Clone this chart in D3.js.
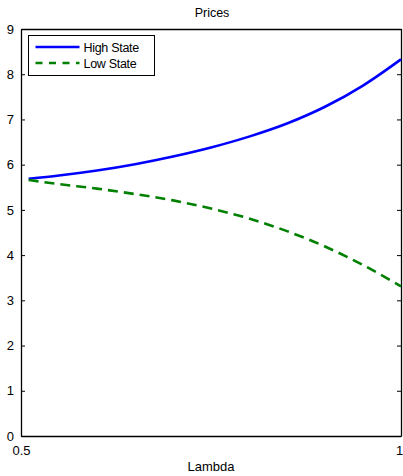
<!DOCTYPE html>
<meta charset="UTF-8">
<script src="https://d3js.org/d3.v7.min.js"></script>
<style>
  body { margin: 0; background: #fff; }
  text { font-family: "Liberation Sans", Arial, sans-serif; }
</style>
<div id="my_dataviz"></div>
<script>

// values
var lambda    = [0.51, 0.55, 0.6, 0.65, 0.7, 0.75, 0.8, 0.85, 0.9, 0.95, 1.0];
var highState = [5.69, 5.76, 5.87, 6.01, 6.18, 6.38, 6.62, 6.91, 7.28, 7.75, 8.33];
var lowState  = [5.66, 5.57, 5.47, 5.35, 5.21, 5.03, 4.81, 4.53, 4.19, 3.78, 3.31];
var yTicks = [0, 1, 2, 3, 4, 5, 6, 7, 8, 9];
var xTicks = [0.5, 1];
var seriesNames = ["High State", "Low State"];

var width = 403, height = 476;
var margin = {top: 29, right: 2, bottom: 40, left: 21};

var svg = d3.select("#my_dataviz")
  .append("svg")
    .attr("width", width)
    .attr("height", height);

var x = d3.scaleLinear().domain([0.5, 1]).range([margin.left, width - margin.right]);
var y = d3.scaleLinear().domain([0, 9]).range([height - margin.bottom, margin.top]);

// title
svg.append("text")
  .attr("x", (x(0.5) + x(1)) / 2 + 1)
  .attr("y", 17)
  .attr("text-anchor", "middle")
  .style("font-size", "12.5px")
  .text("Prices");

// axes (matlab style: ticks inside, box around)
svg.append("g")
  .attr("transform", "translate(" + x(0.5) + ",0)")
  .call(d3.axisLeft(y).tickValues(yTicks).tickSizeInner(-4).tickSizeOuter(0).tickPadding(7))
  .call(function(g) {
    g.select(".domain").attr("stroke-width", 1.3);
    g.selectAll("text").style("font-size", "13px").attr("fill", "#000");
  });

svg.append("g")
  .attr("transform", "translate(" + x(1) + ",0)")
  .call(d3.axisRight(y).tickValues(yTicks).tickSizeInner(-4).tickSizeOuter(0).tickFormat(""))
  .call(function(g) { g.select(".domain").attr("stroke-width", 1.3); });

svg.append("g")
  .attr("transform", "translate(0," + y(0) + ")")
  .call(d3.axisBottom(x).tickValues(xTicks).tickFormat(d3.format("")).tickSizeInner(-4).tickSizeOuter(0).tickPadding(10))
  .call(function(g) {
    g.select(".domain").attr("stroke-width", 1.3);
    g.selectAll("text").style("font-size", "13px").attr("fill", "#000");
    // keep the "1" inside the window
    g.selectAll("text").filter(function(d) { return d === 1; }).attr("dx", "-2px");
  });

svg.append("g")
  .attr("transform", "translate(0," + y(9) + ")")
  .call(d3.axisTop(x).tickValues(xTicks).tickSizeInner(-4).tickSizeOuter(0).tickFormat(""))
  .call(function(g) { g.select(".domain").attr("stroke-width", 1.3); });

// x label
svg.append("text")
  .attr("x", (x(0.5) + x(1)) / 2)
  .attr("y", 471)
  .attr("text-anchor", "middle")
  .style("font-size", "13px")
  .text("Lambda");

// lines
var line = d3.line()
  .x(function(d) { return x(d[0]); })
  .y(function(d) { return y(d[1]); })
  .curve(d3.curveMonotoneX);

svg.append("path")
  .datum(d3.zip(lambda, highState))
  .attr("fill", "none")
  .attr("stroke", "#0000ff")
  .attr("stroke-width", 2.6)
  .attr("d", line);

svg.append("path")
  .datum(d3.zip(lambda, lowState))
  .attr("fill", "none")
  .attr("stroke", "#008000")
  .attr("stroke-width", 2.6)
  .attr("stroke-dasharray", "10,6")
  .attr("d", line);

// legend
var legend = svg.append("g").attr("transform", "translate(28.5,35.5)");
legend.append("rect")
  .attr("width", 126)
  .attr("height", 40)
  .attr("fill", "#fff")
  .attr("stroke", "#000")
  .attr("stroke-width", 1);

var styles = [{color: "#0000ff", dash: null}, {color: "#008000", dash: "7,6.5"}];
seriesNames.forEach(function(name, i) {
  var cy = 11.5 + i * 16;
  legend.append("line")
    .attr("x1", 7).attr("x2", 51)
    .attr("y1", cy).attr("y2", cy)
    .attr("stroke", styles[i].color)
    .attr("stroke-width", 2.6)
    .attr("stroke-dasharray", styles[i].dash);
  legend.append("text")
    .attr("x", 55)
    .attr("y", cy + 4.5)
    .style("font-size", "12.5px")
    .style("letter-spacing", "-0.3px")
    .text(name);
});
</script>
